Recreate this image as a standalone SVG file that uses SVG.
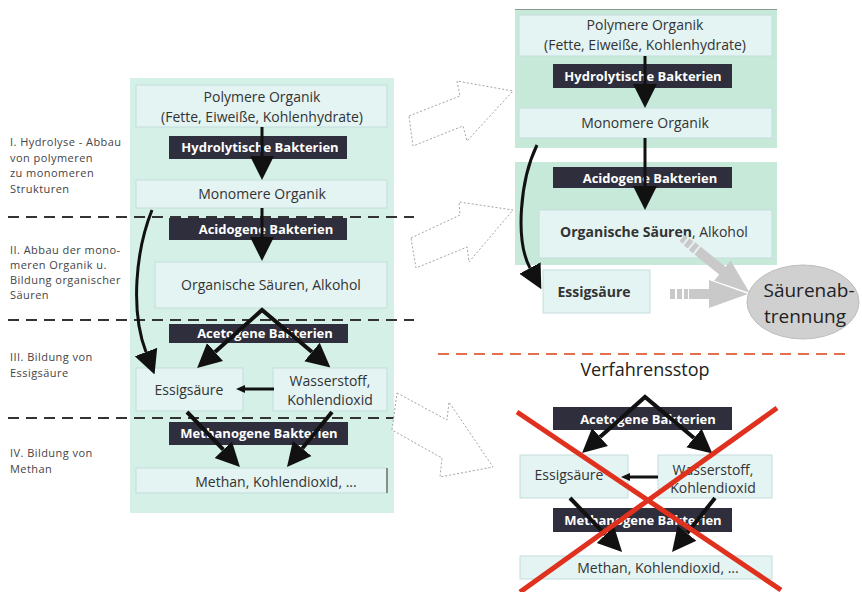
<svg xmlns="http://www.w3.org/2000/svg" width="862" height="592" viewBox="0 0 862 592">
<style>
text{font-family:"Open Sans","DejaVu Sans",sans-serif;}
.lbl{font-size:11px;letter-spacing:0.45px;fill:#444;}
.bx{fill:#e3f4f3;stroke:#c3dedb;stroke-width:1;}
.bt{font-size:14px;fill:#333;text-anchor:middle;}
.dk{fill:#2e2e3c;}
.dt{font-size:13px;font-weight:bold;fill:#fff;text-anchor:middle;}
.dash{stroke:#333;stroke-width:2;stroke-dasharray:11,7;fill:none;}
.ar{stroke:#111;fill:none;stroke-width:3;}
.ar4{stroke:#111;fill:none;stroke-width:4;stroke-linejoin:miter;}
.hollow{fill:#fff;stroke:#9a9a9a;stroke-width:0.9;stroke-dasharray:2,2;}
.gray{fill:#c9c9c9;}
</style>
<defs>
<marker id="ah" markerUnits="userSpaceOnUse" markerWidth="24" markerHeight="26" viewBox="0 -13 24 26" refX="0" refY="0" orient="auto-start-reverse"><path d="M0,-12 L24,0 L0,12 z" fill="#111"/></marker>
<marker id="as" markerUnits="userSpaceOnUse" markerWidth="9" markerHeight="9" viewBox="0 -4.5 9 9" refX="0" refY="0" orient="auto"><path d="M0,-4 L9,0 L0,4 z" fill="#111"/></marker>
</defs>
<rect width="862" height="592" fill="#fff"/>

<!-- left stage labels -->
<g id="labels">
<text class="lbl" x="10" y="146">I. Hydrolyse - Abbau</text>
<text class="lbl" x="10" y="161.5">von polymeren</text>
<text class="lbl" x="10" y="177">zu monomeren</text>
<text class="lbl" x="10" y="192.5">Strukturen</text>
<text class="lbl" x="10" y="253.5">II. Abbau der mono-</text>
<text class="lbl" x="10" y="268.5">meren Organik u.</text>
<text class="lbl" x="10" y="283.5">Bildung organischer</text>
<text class="lbl" x="10" y="298.5">Säuren</text>
<text class="lbl" x="10" y="361">III. Bildung von</text>
<text class="lbl" x="10" y="377">Essigsäure</text>
<text class="lbl" x="10" y="457">IV. Bildung von</text>
<text class="lbl" x="10" y="473">Methan</text>
</g>

<!-- left panel -->
<g id="left-panel">
<rect x="130" y="78" width="264" height="435" fill="#d5f0e6"/>
</g>
<g id="L-polymere"><rect class="bx" x="136" y="85" width="251" height="42"/>
<text class="bt" x="262" y="102">Polymere Organik</text><text class="bt" x="262" y="122">(Fette, Eiweiße, Kohlenhydrate)</text></g>
<g id="L-hydro"><rect class="dk" x="169" y="136" width="178" height="23"/><text class="dt" x="260" y="152">Hydrolytische Bakterien</text></g>
<g id="L-monomere"><rect class="bx" x="136" y="180" width="251" height="28"/><text class="bt" x="262" y="199">Monomere Organik</text></g>
<g id="L-acido"><rect class="dk" x="169" y="218" width="178" height="22"/><text class="dt" x="266" y="233.5">Acidogene Bakterien</text></g>
<g id="L-saeuren"><rect class="bx" x="155" y="262" width="232" height="46"/><text class="bt" x="271" y="290">Organische Säuren, Alkohol</text></g>
<g id="L-aceto"><rect class="dk" x="169" y="324" width="179" height="19"/><text class="dt" x="265" y="338">Acetogene Bakterien</text></g>
<g id="L-essig"><rect class="bx" x="136" y="368" width="107" height="43"/><text class="bt" x="189" y="395">Essigsäure</text></g>
<g id="L-wasser"><rect class="bx" x="273" y="368" width="114" height="43"/><text class="bt" x="330" y="386">Wasserstoff,</text><text class="bt" x="330" y="405">Kohlendioxid</text></g>
<g id="L-methano"><rect class="dk" x="169" y="422" width="179" height="23"/><text class="dt" x="259" y="438">Methanogene Bakterien</text></g>
<g id="L-methan"><rect class="bx" x="136" y="468" width="251" height="25"/><line x1="387" y1="468" x2="387" y2="493" stroke="#555" stroke-width="1.2"/><text class="bt" x="276" y="486.5">Methan, Kohlendioxid, ...</text></g>

<!-- dashed stage separators -->
<g id="separators">
<line class="dash" x1="8" y1="217" x2="414" y2="217"/>
<line class="dash" x1="8" y1="320" x2="414" y2="320"/>
<line class="dash" x1="8" y1="418" x2="414" y2="418"/>
</g>

<!-- hollow transition arrows -->
<g id="hollow-arrows">
<polygon class="hollow" points="409,116 460,96 457,81 513,91 467,141 463,126 413,146"/>
<polygon class="hollow" points="411,238 460,215 459,202 513,210 469,262 467,247 416,268"/>
<polygon class="hollow" points="397,393 447,420 449,402 493,467 440,477 442,458 392,430"/>
</g>

<!-- right top panels -->
<g id="right-panel">
<rect x="515" y="9" width="262" height="139" fill="#c6e9da"/>
<line x1="515" y1="9.5" x2="777" y2="9.5" stroke="#8a9a94" stroke-width="1"/>
<rect x="515" y="162" width="262" height="103" fill="#c6e9da"/>
</g>
<g id="R-polymere"><rect class="bx" x="519" y="15" width="253" height="41"/>
<text class="bt" x="645" y="30">Polymere Organik</text><text class="bt" x="645" y="50">(Fette, Eiweiße, Kohlenhydrate)</text></g>
<g id="R-hydro"><rect class="dk" x="553" y="64" width="179" height="24"/><text class="dt" x="643" y="80.5">Hydrolytische Bakterien</text></g>
<g id="R-monomere"><rect class="bx" x="519" y="108" width="253" height="30"/><text class="bt" x="645" y="128">Monomere Organik</text></g>
<g id="R-acido"><rect class="dk" x="553" y="167" width="179" height="21"/><text class="dt" x="650" y="182.5">Acidogene Bakterien</text></g>
<g id="R-saeuren"><rect class="bx" x="539" y="210" width="233" height="48"/><text class="bt" x="654" y="237"><tspan font-weight="bold">Organische Säuren</tspan>, Alkohol</text></g>
<g id="R-essig"><rect class="bx" x="543" y="270" width="107" height="43"/><text class="bt" x="594" y="297" font-weight="bold" font-size="13">Essigsäure</text></g>

<!-- Säurenabtrennung -->
<g id="saeureabtrennung">
<g transform="translate(682,238) rotate(39)">
<rect class="gray" x="0" y="-4" width="4" height="8"/><rect class="gray" x="6" y="-4.5" width="5" height="9"/><rect class="gray" x="13" y="-5" width="5" height="10"/>
<polygon class="gray" points="20,-5 52,-5 52,-13 87,0 52,13 52,5 20,5"/>
</g>
<g transform="translate(670,294)">
<rect class="gray" x="0" y="-5" width="5" height="10"/><rect class="gray" x="7" y="-5" width="5" height="10"/><rect class="gray" x="14" y="-5" width="4" height="10"/>
<polygon class="gray" points="19,-5 39,-5 39,-14 78,0 39,14 39,5 19,5"/>
</g>
<ellipse cx="803" cy="302" rx="56" ry="37" fill="#d0d0d0" stroke="#bdbdbd" stroke-width="1"/>
<text x="809" y="297" font-size="19" fill="#222" text-anchor="middle">Säurenab-</text>
<text x="805" y="323" font-size="19" fill="#222" text-anchor="middle">trennung</text>
</g>

<!-- process stop -->
<g id="stop-line">
<line x1="438" y1="354" x2="846" y2="354" stroke="#e07050" stroke-width="2" stroke-dasharray="11,7"/>
<text x="645" y="376" font-size="18" fill="#222" text-anchor="middle">Verfahrensstop</text>
</g>

<!-- bottom right (stopped) -->
<g id="S-aceto"><rect class="dk" x="553" y="407" width="179" height="23"/><text class="dt" x="648" y="423.5">Acetogene Bakterien</text></g>
<g id="S-essig"><rect class="bx" x="520" y="455" width="108" height="43"/><text class="bt" x="569" y="480">Essigsäure</text></g>
<g id="S-wasser"><rect class="bx" x="658" y="455" width="114" height="43"/><text class="bt" x="713" y="475">Wasserstoff,</text><text class="bt" x="713" y="492.5">Kohlendioxid</text></g>
<g id="S-methano"><rect class="dk" x="553" y="508" width="179" height="24"/><text class="dt" x="643" y="524.5">Methanogene Bakterien</text></g>
<g id="S-methan"><rect class="bx" x="520" y="556" width="252" height="23"/><text class="bt" x="658" y="573">Methan, Kohlendioxid, ...</text></g>

<!-- connectors -->
<g id="connectors">
<path class="ar" d="M262,127 V156" marker-end="url(#ah)"/>
<path class="ar" d="M262,208 V237" marker-end="url(#ah)"/>
<path class="ar" d="M152,210 C136,250 130,310 146,352" stroke-width="3.5" marker-end="url(#ah)"/>
<path class="ar4" d="M215,352 L262,310 L312,352" marker-start="url(#ah)" marker-end="url(#ah)"/>
<path class="ar" d="M274,389 H245" stroke-width="1.6" marker-end="url(#as)"/>
<path class="ar4" d="M187,412 L223.3,449.7" marker-end="url(#ah)"/>
<path class="ar4" d="M332,412 L302.2,448.4" marker-end="url(#ah)"/>

<path class="ar" d="M645,56 V84" marker-end="url(#ah)"/>
<path class="ar" d="M645,138 V186" marker-end="url(#ah)"/>
<path class="ar" d="M537,145 C520,180 515,240 530,268" stroke-width="3.5" marker-end="url(#ah)"/>

<path class="ar4" d="M600,437 L645,397 L694,438" marker-start="url(#ah)" marker-end="url(#ah)"/>
<path class="ar" d="M658,477 H630" stroke-width="1.6" marker-end="url(#as)"/>
<path class="ar4" d="M570,498 L605.4,534.7" marker-end="url(#ah)"/>
<path class="ar4" d="M715,498 L687,533.2" marker-end="url(#ah)"/>
</g>

<!-- red cross -->
<g id="cross">
<line x1="517" y1="412" x2="781" y2="590" stroke="#e0301e" stroke-width="5"/>
<line x1="777" y1="408" x2="520" y2="592" stroke="#e0301e" stroke-width="5"/>
</g>
</svg>
